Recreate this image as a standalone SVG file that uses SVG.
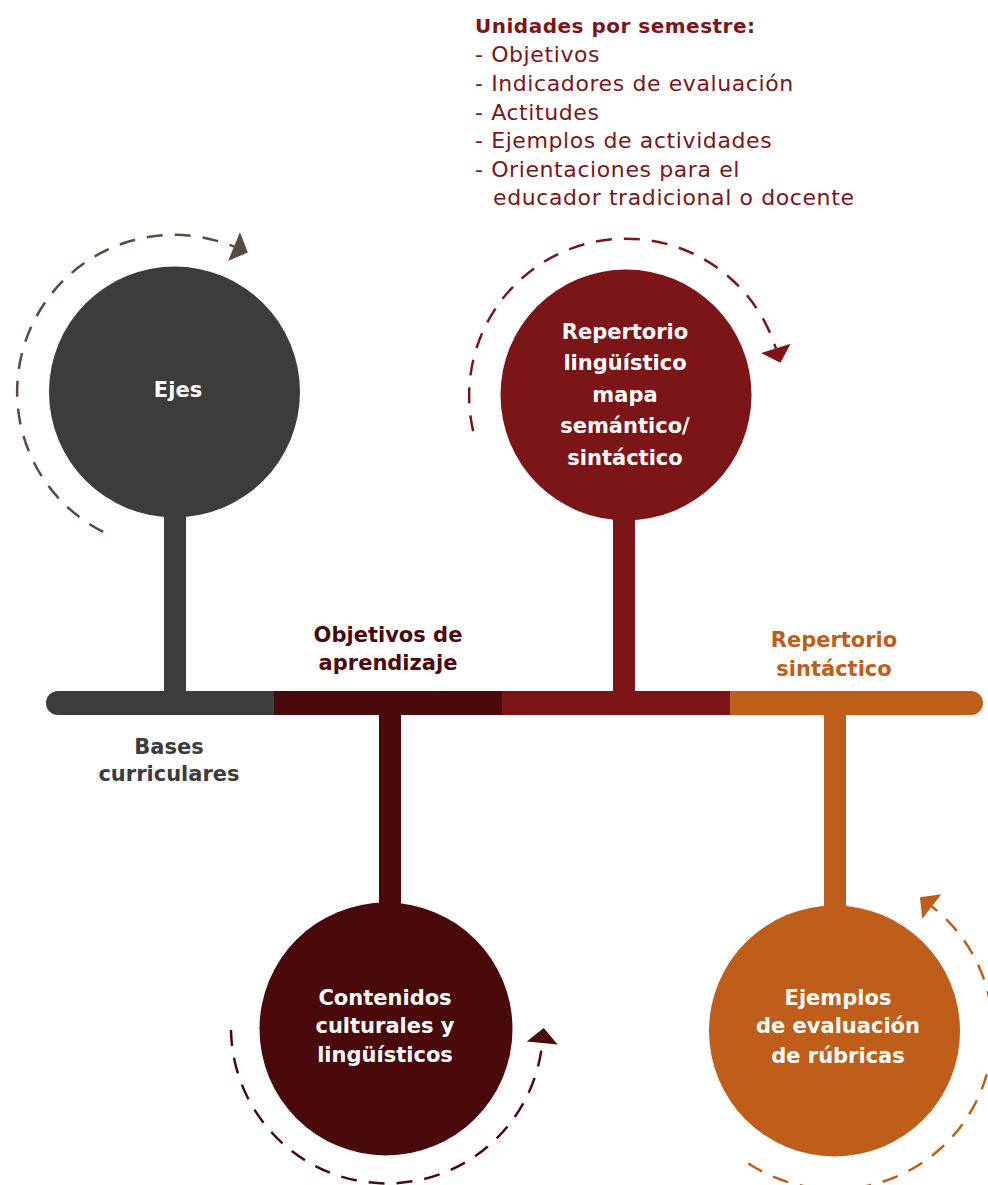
<svg xmlns="http://www.w3.org/2000/svg" width="988" height="1185" viewBox="0 0 988 1185">
<style>
  text { font-family: "DejaVu Sans", "Liberation Sans", sans-serif; }
  .b { font-weight: 700; font-size: 21px; }
  .t { font-weight: 700; font-size: 20px; letter-spacing: 0.5px; }
  .r { font-weight: 400; font-size: 22px; letter-spacing: 0.6px; }
  .w { fill: #ffffff; text-anchor: middle; }
  .c { text-anchor: middle; }
  .arc { fill: none; stroke-width: 2.5; stroke-dasharray: 16 12; }
</style>
<defs>
  <marker id="mGray" markerUnits="userSpaceOnUse" markerWidth="20" markerHeight="34" refX="0" refY="16" orient="auto" overflow="visible"><path d="M0,0.5 L15,16 L0,31.5 Z" fill="#5a4943"/></marker>
  <marker id="mRed" markerUnits="userSpaceOnUse" markerWidth="20" markerHeight="34" refX="0" refY="16" orient="auto" overflow="visible"><path d="M0,0.5 L15,16 L0,31.5 Z" fill="#7c1517"/></marker>
  <marker id="mMaroon" markerUnits="userSpaceOnUse" markerWidth="20" markerHeight="34" refX="0" refY="16" orient="auto" overflow="visible"><path d="M0,0.5 L15,16 L0,31.5 Z" fill="#4a0a0b"/></marker>
  <marker id="mOrange" markerUnits="userSpaceOnUse" markerWidth="20" markerHeight="34" refX="0" refY="16" orient="auto" overflow="visible"><path d="M0,0.5 L15,16 L0,31.5 Z" fill="#bf5e1a"/></marker>
</defs>
<rect width="988" height="1185" fill="#ffffff"/>

<g id="unidades">
  <text x="475" y="33" class="t" fill="#7c1517">Unidades por semestre:</text>
  <text class="r" fill="#7c1517">
    <tspan x="475" y="62">- Objetivos</tspan>
    <tspan x="475" y="91">- Indicadores de evaluación</tspan>
    <tspan x="475" y="120">- Actitudes</tspan>
    <tspan x="475" y="148">- Ejemplos de actividades</tspan>
    <tspan x="475" y="177">- Orientaciones para el</tspan>
    <tspan x="493" y="205">educador tradicional o docente</tspan>
  </text>
</g>

<g id="bases">
  <rect x="164" y="500" width="22" height="200" fill="#3c3c3b"/>
  <path d="M58,691 H274 V715 H58 A12,12 0 0 1 58,691 Z" fill="#3c3c3b"/>
  <circle cx="174.5" cy="392" r="125.5" fill="#3c3c3b"/>
  <text x="178" y="397" class="b w">Ejes</text>
  <text class="b c" fill="#3c3c3b"><tspan x="169" y="754">Bases</tspan><tspan x="169" y="781">curriculares</tspan></text>
</g>

<g id="objetivos">
  <rect x="379" y="705" width="22" height="210" fill="#4a0a0b"/>
  <rect x="274" y="691" width="228" height="24" fill="#4a0a0b"/>
  <circle cx="386" cy="1029" r="126.5" fill="#4a0a0b"/>
  <text class="b w"><tspan x="385" y="1005">Contenidos</tspan><tspan x="385" y="1033">culturales y</tspan><tspan x="385" y="1062">lingüísticos</tspan></text>
  <text class="b c" fill="#4a0a0b"><tspan x="388" y="642">Objetivos de</tspan><tspan x="388" y="670">aprendizaje</tspan></text>
</g>

<g id="repertorio-linguistico">
  <rect x="613" y="500" width="22" height="200" fill="#7c1517"/>
  <rect x="502" y="691" width="228" height="24" fill="#7c1517"/>
  <circle cx="626" cy="395" r="125.5" fill="#7c1517"/>
  <text class="b w"><tspan x="625" y="339">Repertorio</tspan><tspan x="625" y="370">lingüístico</tspan><tspan x="625" y="402">mapa</tspan><tspan x="625" y="433">semántico/</tspan><tspan x="625" y="465">sintáctico</tspan></text>
</g>

<g id="repertorio-sintactico">
  <rect x="824" y="705" width="22" height="210" fill="#bf5e1a"/>
  <path d="M730,691 H971 A12,12 0 0 1 971,715 H730 Z" fill="#bf5e1a"/>
  <circle cx="834.5" cy="1031" r="125.5" fill="#bf5e1a"/>
  <text class="b w"><tspan x="838" y="1005">Ejemplos</tspan><tspan x="838" y="1033">de evaluación</tspan><tspan x="838" y="1063">de rúbricas</tspan></text>
  <text class="b c" fill="#bf5e1a"><tspan x="834" y="647">Repertorio</tspan><tspan x="834" y="676">sintáctico</tspan></text>
</g>

<g id="connectors">
  <path class="arc" stroke="#5a4943" d="M103.2,531.9 A157,157 0 0 1 234,246.7" marker-end="url(#mGray)"/>
  <path class="arc" stroke="#7c1517" d="M473.2,431.1 A157,157 0 0 1 775.9,348.5" marker-end="url(#mRed)"/>
  <path class="arc" stroke="#4a0a0b" d="M231,1030 A156,156 0 0 0 542.2,1043" marker-end="url(#mMaroon)"/>
  <path class="arc" stroke="#bf5e1a" d="M748.4,1163.5 A158,158 0 0 0 931.8,906.5" marker-end="url(#mOrange)"/>
</g>
</svg>
